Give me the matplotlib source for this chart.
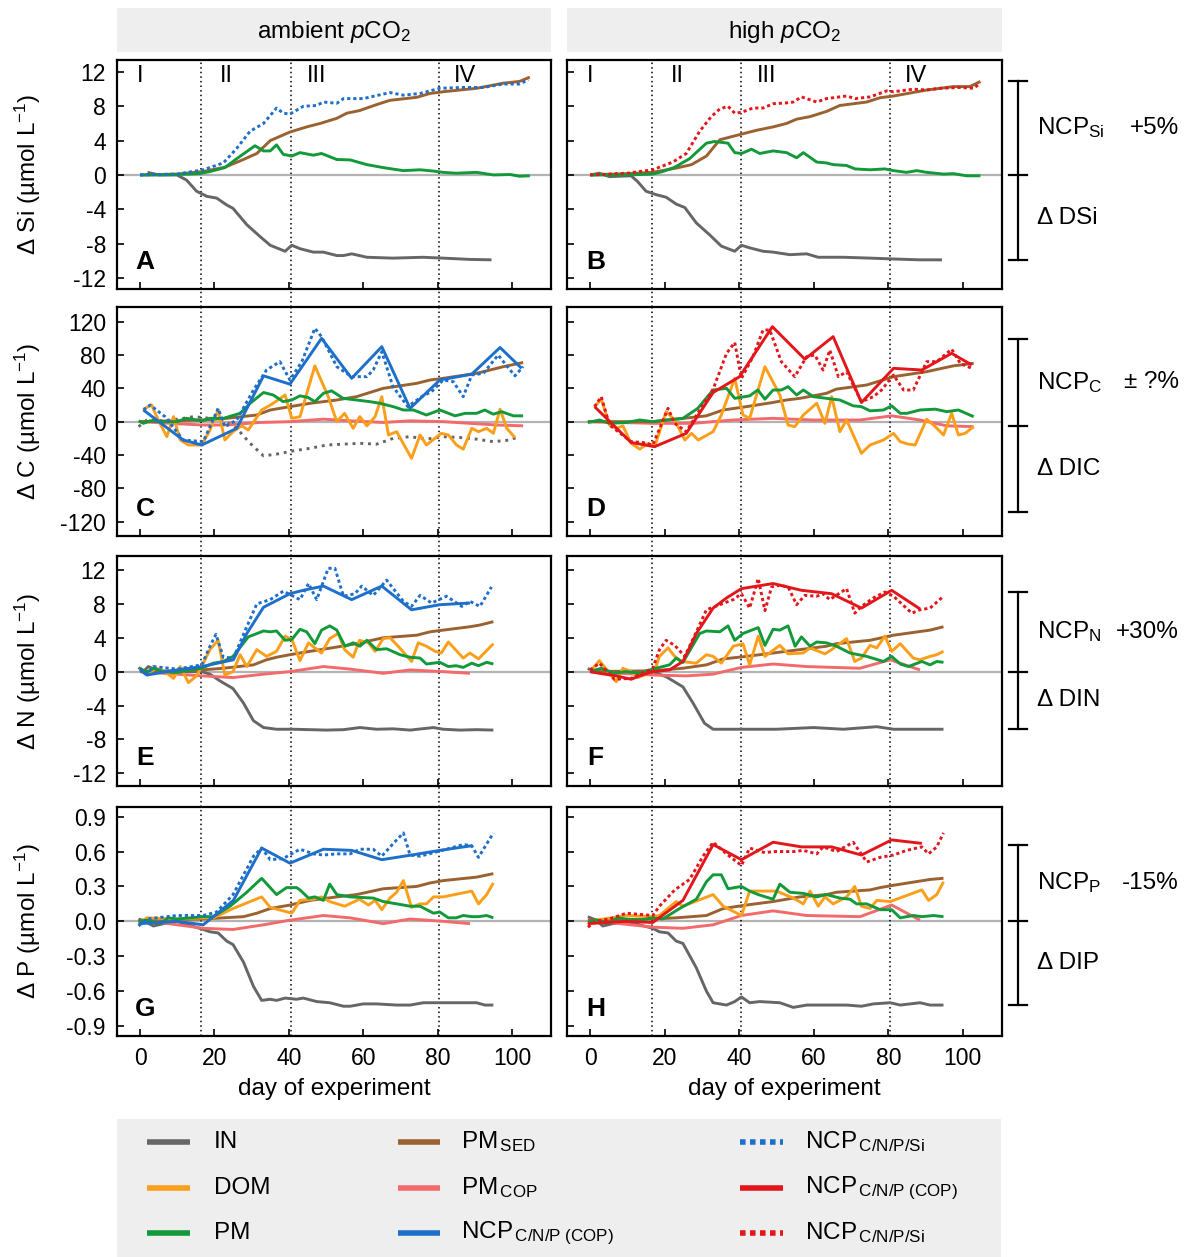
import matplotlib
matplotlib.use("Agg")
import matplotlib.pyplot as plt
from matplotlib.lines import Line2D
from matplotlib.patches import Rectangle

plt.rcParams['font.family'] = ['Liberation Sans', 'DejaVu Sans']
plt.rcParams['mathtext.fontset'] = 'custom'
plt.rcParams['mathtext.rm'] = 'Liberation Sans'
plt.rcParams['mathtext.it'] = 'Liberation Sans:italic'
plt.rcParams['mathtext.bf'] = 'Liberation Sans:bold'

# ---------------- DATA ----------------
phase_days = [16.5, 40.5, 80.5]
phase_labels = ["I", "II", "III", "IV"]
phase_label_days = [0, 23.3, 47.4, 87.3]
x_ticks = [0, 20, 40, 60, 80, 100]

# Panel A (ambient, Si)
A_IN_d = [2, 5, 9.9, 12.5, 15.2, 18, 20.6, 23.3, 25, 28.7, 32.3, 35, 39, 40.8, 43, 46.6, 49.3, 52.9, 54.7, 56.9, 61, 68, 76, 81.5, 88.7, 94.5]
A_IN_v = [0.3, 0, 0, -0.6, -1.9, -2.5, -2.7, -3.5, -3.9, -5.8, -7.2, -8.2, -8.9, -8.2, -8.6, -9.0, -9.0, -9.4, -9.4, -9.2, -9.6, -9.7, -9.6, -9.7, -9.85, -9.9]
A_SED_d = [0, 5, 10, 17, 22.8, 27.8, 31.4, 35, 40.3, 44.8, 48.4, 52.9, 55.6, 59, 63.6, 67.2, 74.4, 78, 81.5, 90.5, 97.7, 102, 104.8]
A_SED_v = [0, 0.05, 0.1, 0.4, 0.9, 1.8, 2.5, 4.0, 5.0, 5.6, 6.0, 6.6, 7.2, 7.5, 8.2, 8.7, 9.05, 9.5, 9.7, 10.1, 10.7, 10.9, 11.4]
A_PM_d = [0, 5, 10, 16, 18.8, 22.8, 26, 30.9, 33.2, 35, 36.7, 38.5, 40.8, 43, 46.6, 48.8, 52.9, 56.5, 61, 65.4, 70.8, 75.3, 78.9, 81.5, 85, 90.5, 95, 99.5, 102, 104.8]
A_PM_v = [0, 0, 0.05, 0.15, 0.4, 0.85, 1.9, 3.4, 2.8, 2.8, 3.5, 2.4, 2.2, 2.6, 2.3, 2.5, 1.8, 1.75, 1.2, 0.85, 0.5, 0.6, 0.45, 0.3, 0.2, 0.3, 0, 0.05, -0.15, -0.1]
A_NCPSi_d = [0, 10, 17, 22.4, 26, 29.6, 33.2, 36.7, 38.5, 40.3, 43.9, 47.5, 49.3, 52.9, 54.7, 60, 67.2, 70.8, 75.3, 80.6, 87, 92.3, 97.7, 102, 104.4]
A_NCPSi_v = [0, 0.1, 0.6, 1.4, 3.1, 5.1, 6.0, 7.8, 7.2, 7.1, 8.0, 8.1, 8.5, 8.35, 8.9, 8.9, 9.6, 9.3, 9.5, 10.1, 10.2, 10.2, 10.6, 10.6, 11.1]

# Panel B (high, Si)
B_IN_d = [0, 2.5, 5.2, 11, 12.8, 15, 17.7, 20.4, 23.1, 25.4, 28.5, 32.1, 35.2, 38.8, 40.6, 42.8, 46.4, 49.1, 53.6, 58.1, 61.2, 68, 75.1, 81.4, 88.5, 94.4]
B_IN_v = [0, 0.2, -0.2, -0.1, -0.8, -1.9, -2.3, -2.6, -3.4, -3.8, -5.6, -7.0, -8.3, -8.9, -8.2, -8.5, -8.9, -9.0, -9.3, -9.2, -9.6, -9.6, -9.7, -9.8, -9.9, -9.9]
B_SED_d = [0, 10, 16.8, 23.1, 27.2, 31.2, 34.8, 40.1, 44.6, 49.1, 52.7, 55.4, 59, 63.4, 67, 74.2, 77.8, 81.4, 90.3, 97.5, 101.9, 104.7]
B_SED_v = [0, 0.15, 0.3, 0.8, 1.2, 2.2, 4.1, 4.7, 5.2, 5.6, 6.0, 6.5, 6.8, 7.4, 8.1, 8.5, 9.0, 9.2, 9.9, 10.3, 10.3, 10.9]
B_PM_d = [0, 10, 16.8, 19.5, 22.7, 26.7, 31.2, 33.4, 37, 38.8, 40.6, 43.3, 45.5, 49.1, 52.7, 55.4, 57.2, 60.8, 63.4, 65.2, 68.8, 71.1, 75.1, 79.1, 81.4, 84.9, 87.6, 90.3, 94.8, 97.5, 101, 104.7]
B_PM_v = [0, 0, 0.1, 0.4, 0.9, 1.9, 3.7, 3.9, 3.7, 2.6, 2.5, 3.0, 2.5, 2.8, 2.6, 2.0, 2.6, 1.5, 1.4, 1.2, 1.1, 0.7, 0.6, 0.7, 0.5, 0.3, 0.5, 0.3, 0.1, 0.15, -0.1, -0.1]
B_NCPSi_d = [0, 10, 16.8, 22.2, 25.8, 29.4, 32.5, 34.8, 37, 38.8, 40.6, 43.7, 46.4, 49.1, 52.7, 54.5, 56.7, 60.8, 63.4, 68.8, 71.1, 75.1, 79.6, 81.4, 86.7, 90.3, 93.9, 99.3, 102.9, 104.7]
B_NCPSi_v = [0, 0.2, 0.6, 1.5, 2.5, 5.1, 6.8, 7.7, 8.0, 7.2, 7.3, 7.8, 7.8, 8.3, 8.4, 8.5, 9.1, 8.5, 8.9, 9.2, 8.9, 9.1, 9.8, 9.7, 10.0, 9.9, 10.1, 10.2, 10.1, 10.7]

# Panel C (ambient, C)
C_NCP_d = [0.9, 11.6, 16.6, 26, 33.2, 40.3, 48.8, 56.9, 65, 72.6, 80.6, 89.2, 96.8, 102.6]
C_NCP_v = [14, -22, -28, -8, 55, 45, 100, 52, 90, 16, 50, 57, 89, 64]
C_NCPSi_d = [0.9, 2.7, 6.7, 11.6, 17, 21, 22.8, 26, 30.5, 34, 37.6, 40.3, 43.5, 47, 48.8, 52.9, 56.9, 61, 62.7, 65, 68, 72, 75.7, 78.4, 81.5, 84.2, 86.9, 89.2, 92.3, 96.3, 97.7, 100.8, 103]
C_NCPSi_v = [14, 20, 6, -22, -24, 16, -6, 2, 38, 62, 72, 50, 72, 112, 102, 66, 54, 54, 62, 84, 42, 18, 30, 36, 50, 48, 30, 56, 58, 80, 72, 55, 66]
C_DOM_d = [0.9, 3.1, 4.9, 7.2, 9, 10.8, 13, 16.6, 18.8, 21, 22.8, 25, 27.3, 29.1, 32.7, 35.8, 39, 40.8, 43, 47, 50.6, 52.9, 55, 57.3, 59.1, 61, 63.2, 65, 66.8, 69, 73, 75.3, 77, 81, 82.9, 85.1, 86.9, 89.2, 91, 93.2, 95, 96.8, 98.6, 100.8]
C_DOM_v = [15, 20, 2, -18, 6, -22, -28, -28, -10, 14, -22, -12, -5, -10, 14, 22, 32, 4, 6, 67, 30, 0, 10, -8, 6, -5, 6, 30, -16, -12, -44, -16, -28, -14, -16, -28, -33, -8, -12, -8, -14, 15, -8, -19]
C_PM_d = [-0.4, 0.9, 2.7, 6.3, 9.9, 12.5, 16.6, 18.8, 22.4, 26.9, 29.6, 33.2, 35.8, 38.5, 40.8, 43, 45.2, 47, 49.3, 51.5, 54.6, 58.2, 61.8, 64.5, 68.1, 70.8, 73.5, 77, 80.6, 84.7, 87.4, 90.5, 92.7, 95, 97.2, 100.4, 103]
C_PM_v = [1, -2, 1, 0, 0, 4, 1, 4, 4, 10, 22, 35, 32, 24, 26, 31, 29, 24, 34, 37, 28, 26, 24, 22, 18, 14, 14, 8, 14, 7, 10, 10, 14, 9, 12, 7, 7]
C_SED_d = [0, 17, 23.3, 31.4, 35, 40.3, 45.7, 52.9, 58.2, 65.4, 74.4, 78, 81.5, 90.5, 97.7, 103]
C_SED_v = [0, 2, 4, 8, 14, 18, 22, 26, 30, 40, 46, 50, 52, 58, 66, 71]
C_COP_d = [0, 16.6, 23.3, 32, 40.3, 49.3, 56.5, 65.4, 72.6, 81.5, 88.7, 95.9, 103]
C_COP_v = [0, -4, -4, -1, 0, 3, 1, -1, 1, 0, -2, -4, -5]
C_IN_d = [-0.4, 1.8, 6.3, 11.6, 14.3, 18.8, 22.4, 26, 29.6, 33.2, 36.7, 41.2, 45.7, 50.2, 54.7, 59.1, 63.6, 68.1, 72.6, 77, 81.5, 86, 90.5, 95, 99.5, 101.7]
C_IN_v = [-6, 2, 1, 4, 6, 4, 2, -8, -26, -41, -39, -35, -32, -28, -27, -26, -27, -20, -18, -21, -18, -19, -21, -24, -22, -18]

# Panel D (high, C)
D_NCP_d = [1.2, 11, 17.3, 25.8, 33, 40.1, 48.9, 57.6, 65.2, 72.8, 81.4, 89, 97, 102.4]
D_NCP_v = [18, -25, -30, -14, 35, 54, 114, 75, 102, 23, 64, 62, 82, 68]
D_NCPSi_d = [1.2, 3, 5.2, 11, 14.2, 16.8, 20.9, 22.7, 25.8, 29.4, 33, 36.6, 38.8, 40.6, 43.7, 46.4, 48.2, 51.3, 54.9, 58.1, 60.3, 62.5, 64.3, 66.6, 68.8, 72.8, 76, 78.2, 81.4, 84.1, 86.7, 90.3, 93, 97, 99.3, 102.4]
D_NCPSi_v = [18, 30, -4, -24, -25, -28, 16, -2, -12, 14, 39, 82, 95, 52, 78, 110, 110, 72, 54, 78, 80, 62, 86, 54, 60, 24, 30, 38, 56, 38, 38, 72, 72, 87, 70, 64]
D_DOM_d = [1.2, 3, 5.2, 7, 8.8, 11, 13.3, 15.5, 17.3, 20.4, 22.7, 25.4, 27.2, 29, 33, 35.2, 38.8, 41, 42.8, 46.9, 50.9, 53.1, 54.9, 57.2, 60.8, 63, 64.8, 67, 68.8, 72.8, 75.1, 78.7, 81.4, 83.2, 85.4, 87.2, 90.3, 92.6, 94.8, 97, 98.8, 100.6, 102.9]
D_DOM_v = [18, 27, -4, -8, -5, -26, -33, -26, -30, 12, 2, -22, -14, -22, -12, 8, 52, 8, 4, 66, 32, -4, -6, 8, 22, -2, 30, -12, 2, -38, -28, -22, -14, -24, -27, -28, 3, -6, -16, 10, -16, -14, -6]
D_PM_d = [-0.6, 2.5, 5.2, 9.7, 13.3, 16.8, 20.4, 24.9, 28.9, 33, 36.6, 38.8, 42.8, 45, 46.9, 49.1, 51.3, 53.1, 55.4, 57.2, 59.9, 63.4, 67, 70.6, 72.8, 75.1, 78.7, 80.9, 83.2, 85, 88.5, 92.6, 95.7, 98.8, 102.9]
D_PM_v = [-1, 2, -2, -1, 2, 0, 2, 4, 16, 38, 40, 28, 31, 38, 27, 38, 38, 42, 32, 38, 30, 28, 26, 19, 18, 13, 14, 19, 10, 10, 14, 15, 12, 14, 6]
D_SED_d = [-0.6, 16.8, 23, 31.2, 35.7, 41.9, 49, 52.7, 56.3, 63.4, 66, 74.2, 77.8, 81.4, 90.3, 97.5, 102.9]
D_SED_v = [0, 0, 3, 7, 14, 18, 23, 26, 28, 34, 39, 44, 49, 54, 60, 67, 70]
D_COP_d = [-0.6, 16.8, 27.6, 38.4, 49, 59.8, 72.4, 80.9, 88.5, 95.7, 102.9]
D_COP_v = [0, -2, -2, 2, 4, 2, 2, 7, 2, -5, -6]

# Panel E (ambient, N)
E_IN_d = [-0.4, 0.9, 2.2, 5.4, 9.9, 16.6, 18.8, 21.5, 25, 27.8, 30.5, 33.2, 36.7, 41.2, 45.7, 50.2, 54.7, 59.1, 63.6, 68.1, 72.6, 78.9, 81.5, 86, 90.5, 95]
E_IN_v = [0.5, 0, 0.6, 0, 0, 0, -0.3, -1.1, -2.0, -3.7, -5.8, -6.6, -6.8, -6.8, -6.85, -6.9, -6.85, -6.6, -6.8, -6.75, -6.9, -6.6, -6.8, -6.9, -6.85, -6.9]
E_NCP_d = [0, 1.8, 9.9, 16.6, 25.1, 28.7, 33.2, 40.3, 43.9, 49.3, 56.9, 65, 73, 80.6, 88.7]
E_NCP_v = [0.2, -0.4, 0.2, 0.6, 1.4, 4.5, 7.6, 9.2, 9.6, 10.1, 8.5, 10.1, 7.3, 7.9, 8.1]
E_NCPSi_d = [0, 1.8, 3.6, 9.9, 16.6, 18.8, 20.4, 22.4, 25.1, 28.7, 31.4, 35, 38.5, 43, 45.3, 47.5, 50.6, 52.4, 54.7, 57.8, 59.6, 62.7, 66.3, 70.8, 73, 75.3, 78.4, 82.4, 86.5, 88.7, 91.4, 94.5]
E_NCPSi_v = [0.3, -0.3, 0.6, 0.3, 0.8, 3.0, 4.4, 1.7, 1.6, 5.3, 8.0, 8.5, 9.5, 8.5, 10.4, 8.5, 12.2, 12.2, 8.9, 9.2, 10.1, 9.0, 10.8, 8.3, 7.7, 9.0, 8.1, 8.9, 7.7, 8.3, 7.7, 10.0]
E_DOM_d = [0, 1.8, 4.5, 6.7, 9, 10.8, 13, 15.2, 17, 18.8, 21, 22.8, 25, 26.9, 28.7, 31.4, 34, 36.7, 39, 40.8, 43, 45.3, 47, 48.8, 51, 53.3, 55, 57.3, 59, 61.4, 63.2, 65.4, 67.2, 69.4, 73, 74.8, 77, 79.3, 81, 82.9, 86.9, 88.7, 91, 95]
E_DOM_v = [0.4, -0.2, 0.4, 0, -0.8, 0.6, -1.3, -0.5, 1.0, 2.6, 3.7, -0.4, 0, 2.0, 0.6, 2.6, 1.8, 2.4, 4.2, 3.8, 1.3, 3.4, 2.8, 2.2, 3.9, 4.5, 2.6, 1.7, 3.7, 3.4, 2.4, 3.9, 4.0, 3.0, 1.2, 3.4, 3.0, 2.4, 2.2, 3.5, 1.6, 2.2, 1.5, 3.3]
E_PM_d = [0, 1.8, 3.6, 6.3, 9.9, 13.5, 16.6, 19.7, 22.4, 25, 29.1, 33.2, 35, 36.7, 39, 40.8, 43, 44.8, 47, 48.8, 51, 52.9, 55.1, 57.3, 59.1, 61, 63.6, 66.3, 69.9, 72.6, 75.3, 77, 80.6, 82.9, 85, 86.9, 89.2, 91, 93.2, 95]
E_PM_v = [0.4, -0.1, 0.4, 0, -0.1, 0.2, 0.4, 1.0, 1.2, 1.8, 4.1, 4.8, 4.7, 4.8, 3.7, 3.8, 5.0, 4.7, 3.3, 4.9, 5.4, 4.9, 3.0, 3.4, 3.0, 3.7, 2.6, 2.7, 2.0, 1.7, 1.6, 0.9, 1.1, 0.6, 0.7, 0.5, 1.0, 0.7, 1.1, 0.9]
E_SED_d = [0, 16.6, 22.4, 30.5, 34, 36.7, 40.3, 45.7, 52.9, 58.2, 65.4, 74.4, 78, 81.5, 88.7, 91.4, 95]
E_SED_v = [0, 0.2, 0.4, 0.8, 1.4, 1.7, 2.0, 2.4, 2.9, 3.3, 4.0, 4.3, 4.7, 4.9, 5.3, 5.5, 5.9]
E_COP_d = [0, 16.6, 25, 33.2, 40.3, 49.3, 56.5, 65.4, 72.6, 81.5, 88.7]
E_COP_v = [0, -0.5, -0.7, -0.3, 0, 0.6, 0.3, -0.2, 0.2, 0, -0.2]

# Panel F (high, N)
F_IN_d = [-0.6, 0.7, 16.8, 20.4, 24.9, 27.6, 30.7, 33, 41, 50, 59.9, 67.9, 76.9, 81.4, 94.8]
F_IN_v = [0.4, 0, 0, -0.6, -1.8, -3.7, -6.1, -6.8, -6.8, -6.8, -6.6, -6.8, -6.5, -6.8, -6.8]
F_NCP_d = [0, 2.5, 7, 11, 13.3, 16.8, 21.3, 24.9, 28.5, 33, 36.6, 40.6, 49.1, 56.7, 64.8, 72.8, 80.9, 88.5]
F_NCP_v = [0, -0.2, -0.5, -0.9, -0.5, 0, 0.2, 1.2, 4.5, 7.5, 8.7, 9.8, 10.4, 9.6, 9.2, 7.5, 9.6, 7.4]
F_NCPSi_d = [0, 2.5, 6.5, 11, 16.8, 18.6, 20.4, 22.7, 25.4, 28.5, 31.2, 34.8, 38.4, 40.6, 42.8, 45.1, 46.9, 48.7, 50.9, 53.1, 55.4, 57.6, 60.8, 62.5, 64.3, 68.8, 71, 72.8, 76, 79.1, 81.4, 86.3, 88.5, 91.2, 94.8]
F_NCPSi_v = [0.2, 1.0, -0.9, -0.8, 0.4, 2.6, 3.7, 3.1, 1.8, 4.7, 7.3, 7.9, 8.5, 9.2, 7.5, 11.0, 7.2, 10.0, 10.2, 10.0, 7.9, 9.0, 8.9, 9.2, 8.5, 9.8, 6.9, 7.7, 8.7, 9.4, 8.9, 6.9, 7.3, 7.5, 8.9]
F_DOM_d = [0, 2.5, 4.7, 7, 8.8, 11, 12.8, 15, 17.3, 18.6, 20.9, 22.7, 24.5, 28.5, 31.2, 33, 35.2, 38.4, 41, 42.8, 45.1, 46.9, 50.9, 53.1, 57.2, 59, 63, 64.8, 68.8, 71, 72.8, 75.1, 76.9, 79.1, 80.9, 83.2, 86.7, 88.5, 91.2, 93, 94.8]
F_DOM_v = [0, 1.3, 0.1, -1.2, 0.4, 0, -0.7, -0.3, 0.1, 1.8, 2.8, 1.8, 1.2, 1.0, 2.0, 1.8, 1.0, 3.0, 3.3, 0.8, 4.2, 1.8, 3.1, 2.1, 2.2, 2.8, 2.1, 2.6, 3.9, 1.2, 1.6, 3.1, 2.8, 4.2, 2.4, 3.3, 1.6, 1.4, 1.8, 2.0, 2.4]
F_PM_d = [0, 3, 6.5, 9.7, 13.3, 16.8, 21.3, 23.1, 24.9, 29.4, 31.2, 34.8, 37, 38.8, 41, 45.1, 46.9, 49.1, 50.9, 53.1, 55, 56.7, 59, 60.8, 63.4, 66.1, 69.7, 74.2, 78.7, 80.9, 83.2, 85.4, 89, 91.2, 93, 94.8]
F_PM_v = [0, 0.4, -0.2, 0, -0.2, 0.3, 0.8, 1.6, 1.1, 4.5, 4.8, 4.7, 5.4, 3.7, 4.5, 5.2, 3.1, 5.0, 4.9, 5.4, 3.0, 4.1, 3.0, 3.5, 3.4, 3.0, 2.2, 1.8, 1.2, 1.8, 0.9, 0.6, 1.2, 0.8, 1.2, 1.1]
F_SED_d = [0, 16.8, 24.9, 31.2, 35.7, 41.9, 49.1, 56.3, 63.4, 66.1, 75.1, 81.4, 91.2, 94.8]
F_SED_v = [0, 0.1, 0.4, 0.8, 1.5, 1.8, 2.2, 2.6, 3.0, 3.3, 3.7, 4.3, 4.9, 5.3]
F_COP_d = [0, 16.8, 25.8, 33, 40.6, 49.1, 58.1, 72.4, 80.5, 88.5]
F_COP_v = [0, -0.4, -0.5, -0.3, 0.5, 0.9, 0.6, 0.4, 1.4, 0.2]

# Panel G (ambient, P)
G_IN_d = [-0.4, 1.8, 3.6, 6.3, 9.9, 17, 18.8, 21, 23.3, 25, 27.8, 30.5, 32.7, 35, 36.7, 39, 42.1, 43.9, 47.5, 51, 54.7, 56.5, 60, 63.6, 69, 72.6, 76.2, 80.6, 85, 90.5, 92.7, 95]
G_IN_v = [0.02, -0.01, -0.04, -0.02, 0, -0.07, -0.09, -0.10, -0.17, -0.20, -0.35, -0.56, -0.68, -0.67, -0.68, -0.66, -0.67, -0.66, -0.69, -0.70, -0.73, -0.73, -0.71, -0.71, -0.72, -0.72, -0.70, -0.70, -0.70, -0.70, -0.72, -0.72]
G_NCP_d = [-0.4, 5.4, 9.9, 17, 25.1, 32.7, 40.3, 49.3, 56.9, 65, 73, 80.6, 89.2]
G_NCP_v = [-0.02, -0.01, 0, -0.03, 0.18, 0.63, 0.50, 0.62, 0.61, 0.53, 0.57, 0.61, 0.65]
G_NCPSi_d = [-0.4, 1.8, 9.9, 17, 20.6, 25, 30.5, 32.7, 35, 38.5, 43, 46.6, 49.3, 52.9, 56.5, 59.1, 62.7, 65, 68.1, 70.8, 72.6, 75.3, 78.9, 82.4, 86.9, 89.2, 91, 95]
G_NCPSi_v = [-0.04, 0.02, 0.05, 0.05, 0.08, 0.23, 0.56, 0.63, 0.53, 0.54, 0.62, 0.58, 0.57, 0.58, 0.58, 0.62, 0.62, 0.56, 0.67, 0.76, 0.57, 0.56, 0.59, 0.62, 0.66, 0.65, 0.55, 0.76]
G_DOM_d = [-0.4, 1.8, 9.9, 17, 19.7, 25, 32.7, 35, 40.8, 43, 46.6, 48.8, 51, 55, 59, 61.4, 63.2, 65, 67.2, 69, 70.8, 73, 75.3, 77, 78.9, 81.5, 89.2, 91, 93.2, 95]
G_DOM_v = [-0.03, 0.03, 0.02, 0.03, 0.03, 0.11, 0.21, 0.12, 0.07, 0.18, 0.19, 0.21, 0.17, 0.13, 0.19, 0.14, 0.18, 0.10, 0.20, 0.25, 0.35, 0.12, 0.15, 0.15, 0.21, 0.21, 0.26, 0.15, 0.23, 0.33]
G_PM_d = [-0.4, 1.8, 5.4, 7.6, 9.9, 13.5, 16.6, 19.7, 24.2, 28.7, 32.7, 36.7, 39.4, 42.1, 43, 45.3, 47, 49.3, 51, 52.9, 56.5, 62.7, 65.4, 69, 72.6, 75.3, 78.9, 80.6, 82.9, 85, 86.9, 89.2, 91, 93.2, 95]
G_PM_v = [0, 0.01, -0.02, 0.03, 0.02, 0.03, 0.04, 0.04, 0.13, 0.25, 0.37, 0.23, 0.29, 0.29, 0.27, 0.20, 0.21, 0.18, 0.32, 0.23, 0.21, 0.20, 0.17, 0.15, 0.13, 0.13, 0.07, 0.08, 0.03, 0.03, 0.05, 0.04, 0.04, 0.05, 0.03]
G_SED_d = [-0.4, 17, 22.4, 27.8, 31.4, 35, 40.3, 45.7, 52.9, 58.2, 65.4, 74.4, 78, 81.5, 90.5, 95]
G_SED_v = [0.01, 0.02, 0.03, 0.04, 0.07, 0.11, 0.14, 0.18, 0.21, 0.23, 0.28, 0.30, 0.33, 0.35, 0.38, 0.41]
G_COP_d = [-0.4, 5.4, 17, 25, 33.2, 40.3, 49.3, 56.5, 65.4, 72.6, 81.5, 88.7]
G_COP_v = [0.01, -0.01, -0.06, -0.07, -0.03, 0.01, 0.05, 0.03, -0.02, 0.02, 0, -0.02]

# Panel H (high, P)
H_IN_d = [-0.6, 1.6, 3.4, 6.1, 9.7, 16.8, 18.6, 20.9, 23.1, 24.9, 28.5, 31.2, 33, 36.6, 38.8, 40.6, 42.8, 45.5, 50.9, 54.5, 58.1, 63.4, 68.8, 72.8, 76, 80.5, 83.2, 88.5, 91.2, 94.8]
H_IN_v = [0.04, 0.01, -0.04, -0.02, 0, -0.06, -0.09, -0.10, -0.17, -0.19, -0.40, -0.60, -0.70, -0.72, -0.69, -0.65, -0.70, -0.69, -0.70, -0.74, -0.72, -0.72, -0.72, -0.73, -0.71, -0.70, -0.72, -0.70, -0.72, -0.72]
H_NCP_d = [-0.6, 9.7, 16.8, 24.9, 33, 40.6, 49.1, 56.7, 64.8, 72.8, 80.9, 89]
H_NCP_v = [-0.02, 0, -0.01, 0.18, 0.66, 0.53, 0.68, 0.64, 0.64, 0.57, 0.70, 0.67]
H_NCPSi_d = [-0.6, 1.6, 5.2, 9.7, 16.8, 18.6, 22.7, 26.7, 30.3, 33, 36.6, 40.6, 42.8, 46.9, 49.1, 54.7, 57.2, 60.8, 62.5, 66.1, 70.6, 74.2, 77.8, 81.4, 84.9, 89, 90.8, 93, 94.8]
H_NCPSi_v = [-0.05, 0, 0.02, 0.07, 0.05, 0.13, 0.27, 0.36, 0.56, 0.68, 0.58, 0.48, 0.63, 0.59, 0.60, 0.60, 0.61, 0.58, 0.64, 0.60, 0.68, 0.51, 0.55, 0.57, 0.61, 0.64, 0.58, 0.64, 0.76]
H_DOM_d = [-0.6, 1.6, 9.7, 16.8, 18.6, 23.1, 24.9, 33, 35.7, 40.6, 42.8, 45.5, 50, 54.5, 57.2, 59, 61.2, 63, 65.2, 68.8, 71, 72.8, 75.1, 76.9, 80.5, 89, 90.8, 93, 94.8]
H_DOM_v = [-0.03, 0.01, 0.05, 0.04, 0.05, 0.17, 0.13, 0.23, 0.13, 0.05, 0.26, 0.26, 0.26, 0.20, 0.15, 0.26, 0.13, 0.21, 0.15, 0.21, 0.30, 0.13, 0.11, 0.18, 0.17, 0.27, 0.18, 0.23, 0.34]
H_PM_d = [-0.6, 1.6, 5.2, 7.4, 9.7, 13.3, 16.8, 19.5, 24, 28.5, 31.2, 33, 35.2, 37, 40.6, 42.8, 45.1, 49.1, 50.9, 53.6, 57.2, 60.8, 63.4, 67, 69.7, 71.5, 74.2, 77.8, 80.9, 83.2, 86.7, 89, 92.1, 94.8]
H_PM_v = [-0.01, 0.01, -0.01, 0.03, 0.02, 0.01, 0.03, 0.02, 0.11, 0.19, 0.34, 0.40, 0.40, 0.28, 0.30, 0.26, 0.23, 0.19, 0.32, 0.25, 0.24, 0.21, 0.23, 0.20, 0.19, 0.15, 0.15, 0.10, 0.10, 0.03, 0.05, 0.04, 0.05, 0.04]
H_SED_d = [-0.6, 16.8, 23.1, 31.2, 35.7, 41.9, 49.1, 56.3, 63.4, 66.1, 75.1, 77.8, 81.4, 91.2, 94.8]
H_SED_v = [0.01, 0.02, 0.03, 0.05, 0.11, 0.14, 0.17, 0.21, 0.23, 0.25, 0.27, 0.29, 0.31, 0.36, 0.37]
H_COP_d = [-0.6, 5.2, 16.8, 24.9, 33, 40.6, 49.1, 58.1, 72.4, 80.9, 88.5]
H_COP_v = [0.01, -0.01, -0.05, -0.06, -0.03, 0.05, 0.09, 0.05, 0.04, 0.14, 0.01]

row_ylabels = ["Δ Si (µmol L$^{-1}$)", "Δ C (µmol L$^{-1}$)",
               "Δ N (µmol L$^{-1}$)", "Δ P (µmol L$^{-1}$)"]
row_yticks = [[12, 8, 4, 0, -4, -8, -12],
              [120, 80, 40, 0, -40, -80, -120],
              [12, 8, 4, 0, -4, -8, -12],
              [0.9, 0.6, 0.3, 0.0, -0.3, -0.6, -0.9]]
row_yticklabels = [["12", "8", "4", "0", "-4", "-8", "-12"],
                   ["120", "80", "40", "0", "-40", "-80", "-120"],
                   ["12", "8", "4", "0", "-4", "-8", "-12"],
                   ["0.9", "0.6", "0.3", "0.0", "-0.3", "-0.6", "-0.9"]]
row_ylims = [(-13.3, 13.4), (-137.2, 137.6), (-13.5, 13.65), (-0.986, 0.983)]
panel_letters = [["A", "B"], ["C", "D"], ["E", "F"], ["G", "H"]]
col_titles = ["ambient $p$CO$_2$", "high $p$CO$_2$"]
ncp_labels = ["NCP$_{\\mathrm{Si}}$", "NCP$_{\\mathrm{C}}$", "NCP$_{\\mathrm{N}}$", "NCP$_{\\mathrm{P}}$"]
ncp_pct = ["+5%", "± ?%", "+30%", "-15%"]
delta_labels = ["Δ DSi", "Δ DIC", "Δ DIN", "Δ DIP"]

# ---------------- STYLE ----------------
COL = dict(IN='#666666', DOM='#fb9f1a', PM='#12993a', SED='#9b6231',
           COP='#f26a6b', NCPb='#1d6fc9', NCPr='#e3161b')
LW = 2.1
DOT = (0, (1.1, 1.0))
TICK_FS = 16.5
TXT_FS = 17.5

W, H = 1187, 1257
fig = plt.figure(figsize=(W / 100, H / 100), dpi=100)

def fx(x):
    return x / W

def fy(y):
    return 1 - y / H

cols_x = [(117, 551), (567, 1002)]
rows_y = [(60, 289), (307, 536), (556, 786), (807, 1036)]

panels = [
    [
        [(A_IN_d, A_IN_v, COL['IN'], '-', 3), (A_SED_d, A_SED_v, COL['SED'], '-', 4),
         (A_PM_d, A_PM_v, COL['PM'], '-', 5), (A_NCPSi_d, A_NCPSi_v, COL['NCPb'], DOT, 6)],
        [(B_IN_d, B_IN_v, COL['IN'], '-', 3), (B_SED_d, B_SED_v, COL['SED'], '-', 4),
         (B_PM_d, B_PM_v, COL['PM'], '-', 5), (B_NCPSi_d, B_NCPSi_v, COL['NCPr'], DOT, 6)],
    ],
    [
        [(C_IN_d, C_IN_v, COL['IN'], ':', 3), (C_COP_d, C_COP_v, COL['COP'], '-', 3),
         (C_SED_d, C_SED_v, COL['SED'], '-', 4), (C_DOM_d, C_DOM_v, COL['DOM'], '-', 4),
         (C_PM_d, C_PM_v, COL['PM'], '-', 5), (C_NCP_d, C_NCP_v, COL['NCPb'], '-', 6),
         (C_NCPSi_d, C_NCPSi_v, COL['NCPb'], DOT, 6)],
        [(D_COP_d, D_COP_v, COL['COP'], '-', 3),
         (D_SED_d, D_SED_v, COL['SED'], '-', 4), (D_DOM_d, D_DOM_v, COL['DOM'], '-', 4),
         (D_PM_d, D_PM_v, COL['PM'], '-', 5), (D_NCP_d, D_NCP_v, COL['NCPr'], '-', 6),
         (D_NCPSi_d, D_NCPSi_v, COL['NCPr'], DOT, 6)],
    ],
    [
        [(E_IN_d, E_IN_v, COL['IN'], '-', 3), (E_COP_d, E_COP_v, COL['COP'], '-', 3),
         (E_SED_d, E_SED_v, COL['SED'], '-', 4), (E_DOM_d, E_DOM_v, COL['DOM'], '-', 4),
         (E_PM_d, E_PM_v, COL['PM'], '-', 5), (E_NCP_d, E_NCP_v, COL['NCPb'], '-', 6),
         (E_NCPSi_d, E_NCPSi_v, COL['NCPb'], DOT, 6)],
        [(F_IN_d, F_IN_v, COL['IN'], '-', 3), (F_COP_d, F_COP_v, COL['COP'], '-', 3),
         (F_SED_d, F_SED_v, COL['SED'], '-', 4), (F_DOM_d, F_DOM_v, COL['DOM'], '-', 4),
         (F_PM_d, F_PM_v, COL['PM'], '-', 5), (F_NCP_d, F_NCP_v, COL['NCPr'], '-', 6),
         (F_NCPSi_d, F_NCPSi_v, COL['NCPr'], DOT, 6)],
    ],
    [
        [(G_IN_d, G_IN_v, COL['IN'], '-', 3), (G_COP_d, G_COP_v, COL['COP'], '-', 3),
         (G_SED_d, G_SED_v, COL['SED'], '-', 4), (G_DOM_d, G_DOM_v, COL['DOM'], '-', 4),
         (G_PM_d, G_PM_v, COL['PM'], '-', 5), (G_NCP_d, G_NCP_v, COL['NCPb'], '-', 6),
         (G_NCPSi_d, G_NCPSi_v, COL['NCPb'], DOT, 6)],
        [(H_IN_d, H_IN_v, COL['IN'], '-', 3), (H_COP_d, H_COP_v, COL['COP'], '-', 3),
         (H_SED_d, H_SED_v, COL['SED'], '-', 4), (H_DOM_d, H_DOM_v, COL['DOM'], '-', 4),
         (H_PM_d, H_PM_v, COL['PM'], '-', 5), (H_NCP_d, H_NCP_v, COL['NCPr'], '-', 6),
         (H_NCPSi_d, H_NCPSi_v, COL['NCPr'], DOT, 6)],
    ],
]

for r in range(4):
    for c in range(2):
        x0, x1 = cols_x[c]
        y0, y1 = rows_y[r]
        ax = fig.add_axes([fx(x0), fy(y1), (x1 - x0) / W, (y1 - y0) / H])
        ax.set_xlim(-6.2, 110.5)
        ax.set_ylim(*row_ylims[r])
        for s in ax.spines.values():
            s.set_linewidth(1.6)
        ax.axhline(0, color='#b3b3b3', lw=1.6, zorder=1)
        gap = (rows_y[r + 1][0] - y1) / (y1 - y0) if r < 3 else 0
        for d in phase_days:
            ax.axvline(d, ymin=-gap, ymax=1, color='black', lw=1.1,
                       ls=(0, (1, 2.0)), clip_on=False, zorder=2)
        for (dd, vv, colr, ls, z) in panels[r][c]:
            ax.plot(dd, vv, color=colr, lw=LW, ls=ls, zorder=z,
                    solid_joinstyle='round', solid_capstyle='butt')
        ax.set_xticks(x_ticks)
        ax.set_yticks(row_yticks[r])
        ax.tick_params(direction='in', length=5, width=1.2, labelsize=TICK_FS)
        ax.tick_params(axis='y', pad=8)
        ax.tick_params(axis='x', pad=8)
        if c == 0:
            ax.set_yticklabels(row_yticklabels[r])
            ax.set_ylabel(row_ylabels[r], fontsize=TXT_FS, ha='center', va='center')
            ax.yaxis.set_label_coords((28 - x0) / (x1 - x0), 0.5)
        else:
            ax.set_yticklabels([])
        if r == 3:
            ax.set_xticklabels([str(t) for t in x_ticks])
            ax.set_xlabel("day of experiment", fontsize=TXT_FS, va='center')
            ax.xaxis.set_label_coords(0.5, (y1 - 1089) / (y1 - y0))
        else:
            ax.set_xticklabels([])
        ax.text(0.065, 0.12, panel_letters[r][c], transform=ax.transAxes,
                fontsize=19, fontweight='bold', ha='center', va='center')
        if r == 0:
            for lab, d in zip(phase_labels, phase_label_days):
                ax.text(d, 11.5, lab, fontsize=17, ha='center', va='center')

# column headers
for c in range(2):
    x0, x1 = cols_x[c]
    fig.patches.append(Rectangle((fx(x0), fy(52)), (x1 - x0) / W, 44 / H,
                                 transform=fig.transFigure, facecolor='#eeeeee',
                                 edgecolor='none', zorder=0))
    fig.text(fx((x0 + x1) / 2), fy(32), col_titles[c], fontsize=TXT_FS,
             ha='center', va='center')

# right-hand brackets
brackets = [(81, 175, 260), (339, 426, 512), (592, 672, 729), (845, 921, 1005)]
for r, (top, mid, bot) in enumerate(brackets):
    bx = 1018
    fig.add_artist(Line2D([fx(bx), fx(bx)], [fy(top), fy(bot)], color='black', lw=1.6,
                          transform=fig.transFigure))
    for yy in (top, mid, bot):
        fig.add_artist(Line2D([fx(bx - 9), fx(bx + 9)], [fy(yy), fy(yy)], color='black',
                              lw=1.6, transform=fig.transFigure))
    fig.text(fx(1037), fy((top + mid) / 2), ncp_labels[r], fontsize=TXT_FS, ha='left', va='center')
    fig.text(fx(1179), fy((top + mid) / 2), ncp_pct[r], fontsize=TXT_FS, ha='right', va='center')
    fig.text(fx(1037), fy((mid + bot) / 2), delta_labels[r], fontsize=TXT_FS, ha='left', va='center')

# legend box
fig.patches.append(Rectangle((fx(117), fy(1257)), (1001 - 117) / W, (1257 - 1119) / H,
                             transform=fig.transFigure, facecolor='#eeeeee',
                             edgecolor='none', zorder=0))
legend_items = [
    [("IN", COL['IN'], '-'), ("DOM", COL['DOM'], '-'), ("PM", COL['PM'], '-')],
    [("PM$_{\\,\\mathrm{SED}}$", COL['SED'], '-'), ("PM$_{\\,\\mathrm{COP}}$", COL['COP'], '-'),
     ("NCP$_{\\,\\mathrm{C/N/P\\ (COP)}}$", COL['NCPb'], '-')],
    [("NCP$_{\\,\\mathrm{C/N/P/Si}}$", COL['NCPb'], (0, (1, 0.8))),
     ("NCP$_{\\,\\mathrm{C/N/P\\ (COP)}}$", COL['NCPr'], '-'),
     ("NCP$_{\\,\\mathrm{C/N/P/Si}}$", COL['NCPr'], (0, (1, 0.8)))],
]
leg_x = [(147, 190, 214), (398, 440, 461), (740, 783, 805)]
leg_y = [1142, 1188, 1233]
for ci, col in enumerate(legend_items):
    hx0, hx1, tx = leg_x[ci]
    for ri, (lab, colr, ls) in enumerate(col):
        yy = leg_y[ri]
        fig.add_artist(Line2D([fx(hx0), fx(hx1)], [fy(yy), fy(yy)], color=colr, lw=4,
                              ls=ls, transform=fig.transFigure, solid_capstyle='butt'))
        fig.text(fx(tx), fy(yy), lab, fontsize=TXT_FS, ha='left', va='center')

fig.savefig("out.png", dpi=100)
